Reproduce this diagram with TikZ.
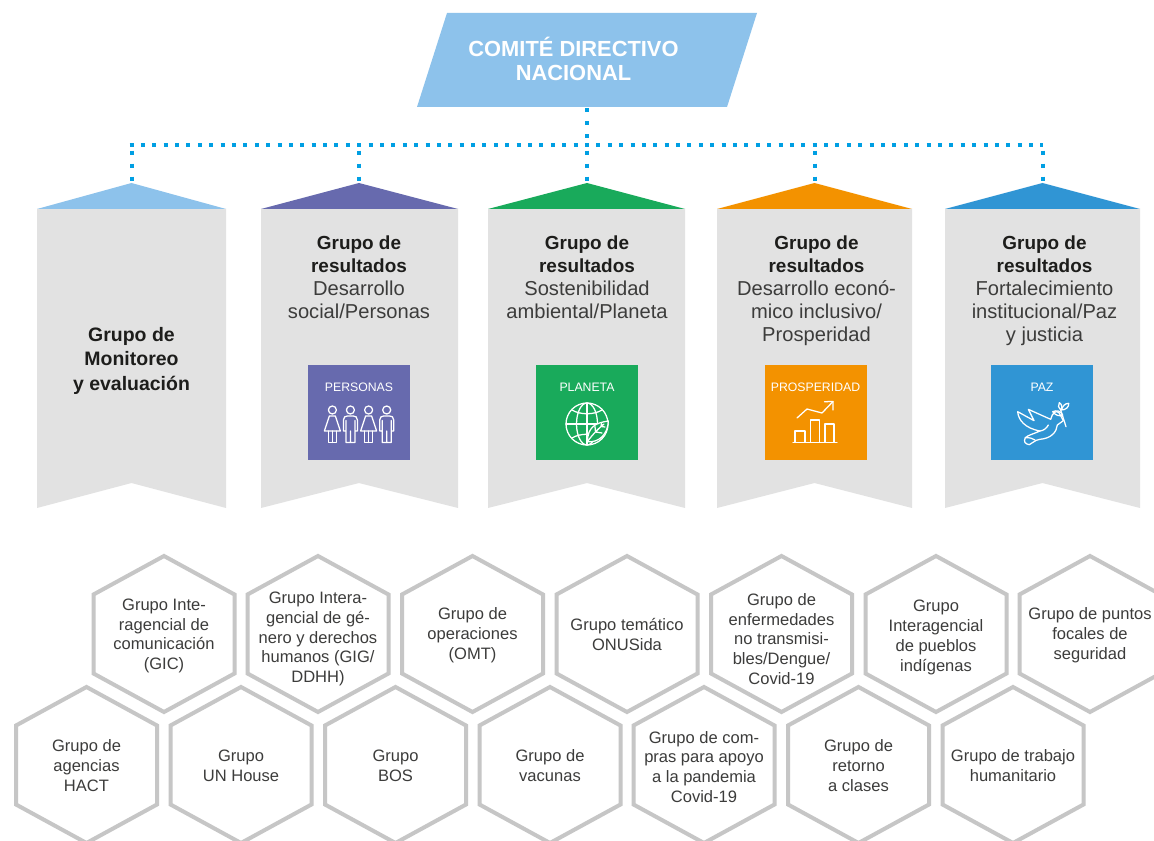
\documentclass[tikz,border=0pt]{standalone}
\usepackage{fontspec}
\setmainfont{Liberation Sans}
\definecolor{skyb}{HTML}{8DC2EB}
\definecolor{purp}{HTML}{676AAE}
\definecolor{gren}{HTML}{19AA5B}
\definecolor{orng}{HTML}{F39200}
\definecolor{blu}{HTML}{3095D4}
\definecolor{panelgray}{HTML}{E2E2E2}
\definecolor{hexgray}{HTML}{C6C6C6}
\definecolor{dotblue}{HTML}{009FE3}
\definecolor{ink}{HTML}{1D1D1B}
\definecolor{softink}{HTML}{3C3C3B}
\newcommand{\bfl}[1]{{\fontsize{14.2}{17.25}\selectfont\bfseries\color{ink}#1}}
\tikzset{
  hexline/.style={draw=hexgray,line width=3pt,fill=white,line join=miter},
  hextext/.style={text=softink,align=center,inner sep=0pt,font=\fontsize{12.4}{14.9}\selectfont},
  paneltext/.style={text=softink,align=center,inner sep=0pt,anchor=north,font=\fontsize{15.1}{17.25}\selectfont},
  tagtext/.style={text=white,inner sep=0pt,font=\fontsize{9.2}{10}\selectfont},
  titletext/.style={text=white,align=center,inner sep=0pt,font=\fontsize{16.4}{18}\selectfont\bfseries},
  hdots/.style={draw=dotblue,line width=3pt,dash pattern=on 3pt off 5.54pt},
  vdots/.style={draw=dotblue,line width=3pt,dash pattern=on 3pt off 6.75pt,dash phase=5.5pt},
  trunkdots/.style={draw=dotblue,line width=3pt,dash pattern=on 3pt off 6.75pt},
  icon/.style={draw=white,line width=0.95pt,line join=round,line cap=round},
}
\newcommand{\hexcell}[5]{% name, cx, cy, text y-shift, text
  \draw[hexline] (#2,#3-78) -- (#2+70.5,#3-39.5) -- (#2+70.5,#3+39.5) -- (#2,#3+78)
     -- (#2-70.5,#3+39.5) -- (#2-70.5,#3-39.5) -- cycle;
  \node[hextext] (#1) at (#2,#3+#4) {#5};
}
\newcommand{\ribbon}[5]{% name, left, right, apex x, colour
  \fill[panelgray] (#2,209) -- (#3,209) -- (#3,508) -- (#4,483) -- (#2,508) -- cycle;
  \fill[#5] (#2,209) -- (#4,183) -- (#3,209) -- cycle;
  \coordinate (#1) at (#4,183);
}
\newcommand{\tagbox}[4]{% name, left, colour, label
  \fill[#3] (#2,365) rectangle (#2+102,460);
  \node[tagtext] (#1) at (#2+51,387) {#4};
}
\newcommand{\woman}[1]{%
  \begin{scope}[shift={(#1,0)}]
    \draw[icon] (0,410) circle[radius=4];
    \draw[icon] (-3,416) -- (3,416) -- (8,431) -- (-8,431) -- cycle;
    \draw[icon] (-4,431) -- (-4,442.5) -- (4,442.5) -- (4,431) (0,431) -- (0,442.5);
  \end{scope}}
\newcommand{\man}[1]{%
  \begin{scope}[shift={(#1,0)}]
    \draw[icon] (0,410) circle[radius=4];
    \draw[icon] (-7,431) -- (-7,420) .. controls (-7,417) and (-5,416) .. (-3,416) -- (3,416)
       .. controls (5,416) and (7,417) .. (7,420) -- (7,431) -- (4.5,431)
       (-7,431) -- (-4.5,431) (-4.5,420.5) -- (-4.5,442.5) -- (4.5,442.5) -- (4.5,420.5) (0,431) -- (0,442.5);
  \end{scope}}
\begin{document}
\begin{tikzpicture}[x=0.75pt,y=-0.75pt]
\clip (0,0) rectangle (1154,841);
\fill[white] (0,0) rectangle (1154,841);

% ribbons
\ribbon{apexA}{37}{226}{131.5}{skyb}
\ribbon{apexB}{261}{458}{359}{purp}
\ribbon{apexC}{488}{685}{587}{gren}
\ribbon{apexD}{717}{912}{814.5}{orng}
\ribbon{apexE}{945}{1140}{1042.5}{blu}

% committee box
\fill[skyb] (447,13) -- (757,13) -- (727,107) -- (417,107) -- cycle;
\node[inner sep=0pt,minimum width=340*0.75pt,minimum height=94*0.75pt] (comite) at (587,60) {};
\node[titletext] (comitetxt) at (573.5,58.5) {COMITÉ DIRECTIVO\\NACIONAL};

% connectors
\coordinate (jA) at (131.5,145);
\coordinate (jB) at (359,145);
\coordinate (jC) at (587,145);
\coordinate (jD) at (814.5,145);
\coordinate (jE) at (1042.5,145);
\coordinate (lineL) at (129.5,145);
\draw[hdots] (lineL) -- (jE);
\draw[trunkdots] (comite.south) ++(0,1) -- (jC);
\draw[vdots] (jA) -- (apexA);
\draw[vdots] (jB) -- (apexB);
\draw[vdots] (jC) -- (apexC);
\draw[vdots] (jD) -- (apexD);
\draw[vdots] (jE) -- (apexE);

% panel texts
\node[paneltext,text=ink,font=\fontsize{14.6}{18.4}\selectfont\bfseries] (panelA) at (131.5,327) {Grupo de\\Monitoreo\\y evaluación};
\node[paneltext] (panelB) at (359,236) {\bfl{Grupo de}\\\bfl{resultados}\\Desarrollo\\social/Personas};
\node[paneltext] (panelC) at (587,236) {\bfl{Grupo de}\\\bfl{resultados}\\Sostenibilidad\\ambiental/Planeta};
\node[paneltext] (panelD) at (816.5,236) {\bfl{Grupo de}\\\bfl{resultados}\\Desarrollo econó-\\mico inclusivo/\\Prosperidad};
\node[paneltext] (panelE) at (1044.5,236) {\bfl{Grupo de}\\\bfl{resultados}\\Fortalecimiento\\institucional/Paz\\y justicia};

% tags
\tagbox{tagB}{308}{purp}{PERSONAS}
\tagbox{tagC}{536}{gren}{PLANETA}
\tagbox{tagD}{764.5}{orng}{PROSPERIDAD}
\tagbox{tagE}{991}{blu}{PAZ}

% people icon
\woman{332.4}\man{350.4}\woman{368.6}\man{386.7}

% globe icon
\begin{scope}[shift={(587,424)}]
  \draw[icon] (0,0) circle[radius=21];
  \draw[icon] (0,-21) -- (0,21);
  \draw[icon] (0,0) ellipse[x radius=10.5,y radius=21];
  \draw[icon] (-21,0) -- (21,0);
  \draw[icon] (-15,-14) .. controls (-7,-9) and (7,-9) .. (15,-14);
  \draw[icon] (-15,14) .. controls (-7,9) and (7,9) .. (15,14);
  \draw[icon,fill=gren] (0.3,17.7) .. controls (1,3) and (8,-1) .. (21.3,-3)
     .. controls (21,10) and (12,19) .. (0.3,17.7) -- cycle;
  \draw[icon] (0.3,17.7) .. controls (6,10) and (12,4) .. (17,0)
     (8.5,8) -- (8,2.5) (8.5,8) -- (15,9) (14,2.5) -- (14.5,-0.5) (14,2.5) -- (18,3);
\end{scope}

% chart icon
\draw[icon] (793,442.3) -- (837,442.3);
\draw[icon] (795,442.3) -- (795,431) -- (805,431) -- (805,442.3);
\draw[icon] (810.5,442.3) -- (810.5,420) -- (819.5,420) -- (819.5,442.3);
\draw[icon] (825,442.3) -- (825,424) -- (834,424) -- (834,442.3);
\draw[icon] (797,418) -- (807,409) -- (822,413) -- (833,401.5);
\draw[icon] (824.5,401.7) -- (833,401.5) -- (833,410);

% dove icon
\begin{scope}[shift={(750,360)},x=0.25pt,y=-0.25pt]
  \draw[icon] (940,182) -- (927,158) .. controls (918,150) and (907,158) .. (902,178)
     -- (835,148) -- (852,182) -- (803,155) .. controls (805,180) and (825,205) .. (870,213)
     .. controls (850,222) and (835,225) .. (826,233) .. controls (820,245) and (825,252) .. (838,254)
     .. controls (850,250) and (852,240) .. (870,238)
     .. controls (905,235) and (920,215) .. (922,195) -- (940,182);
  \draw[icon] (826,233) .. controls (840,232) and (848,236) .. (855,240);
  \draw[icon] (870,213) .. controls (880,212) and (890,205) .. (895,195);
  \draw[icon] (948,200) -- (932,150);
  \draw[icon] (934,150) .. controls (938,138) and (945,130) .. (956,130) .. controls (958,140) and (948,150) .. (934,150);
  \draw[icon] (932,150) .. controls (924,145) and (924,135) .. (928,128) .. controls (936,133) and (938,143) .. (932,150);
  \draw[icon] (938,165) .. controls (928,170) and (916,166) .. (908,155) .. controls (920,150) and (932,152) .. (938,165);
\end{scope}

% hexagons
\hexcell{hexA}{164}{634}{2}{Grupo Inte-\\ragencial de\\comunicación\\(GIC)}
\hexcell{hexB}{318}{634}{5}{Grupo Intera-\\gencial de gé-\\nero y derechos\\humanos (GIG/\\DDHH)}
\hexcell{hexC}{472.5}{634}{1.5}{Grupo de\\operaciones\\(OMT)}
\hexcell{hexD}{627}{634}{0.5}{Grupo temático\\ONUSida}
\hexcell{hexE}{781.5}{634}{5}{Grupo de\\enfermedades\\no transmisi-\\bles/Dengue/\\Covid-19}
\hexcell{hexF}{936}{634}{3.5}{Grupo\\Interagencial\\de pueblos\\indígenas}
\hexcell{hexG}{1090}{634}{1.5}{Grupo de puntos\\focales de\\seguridad}
\hexcell{hexH}{86.5}{765}{0.5}{Grupo de\\agencias\\HACT}
\hexcell{hexI}{241}{765}{0.5}{Grupo\\UN House}
\hexcell{hexJ}{395.5}{765}{0.5}{Grupo\\BOS}
\hexcell{hexK}{550}{765}{0.5}{Grupo de\\vacunas}
\hexcell{hexL}{704}{765}{2}{Grupo de com-\\pras para apoyo\\a la pandemia\\Covid-19}
\hexcell{hexM}{858.5}{765}{0.5}{Grupo de\\retorno\\a clases}
\hexcell{hexN}{1013}{765}{0.5}{Grupo de trabajo\\humanitario}
\end{tikzpicture}
\end{document}
